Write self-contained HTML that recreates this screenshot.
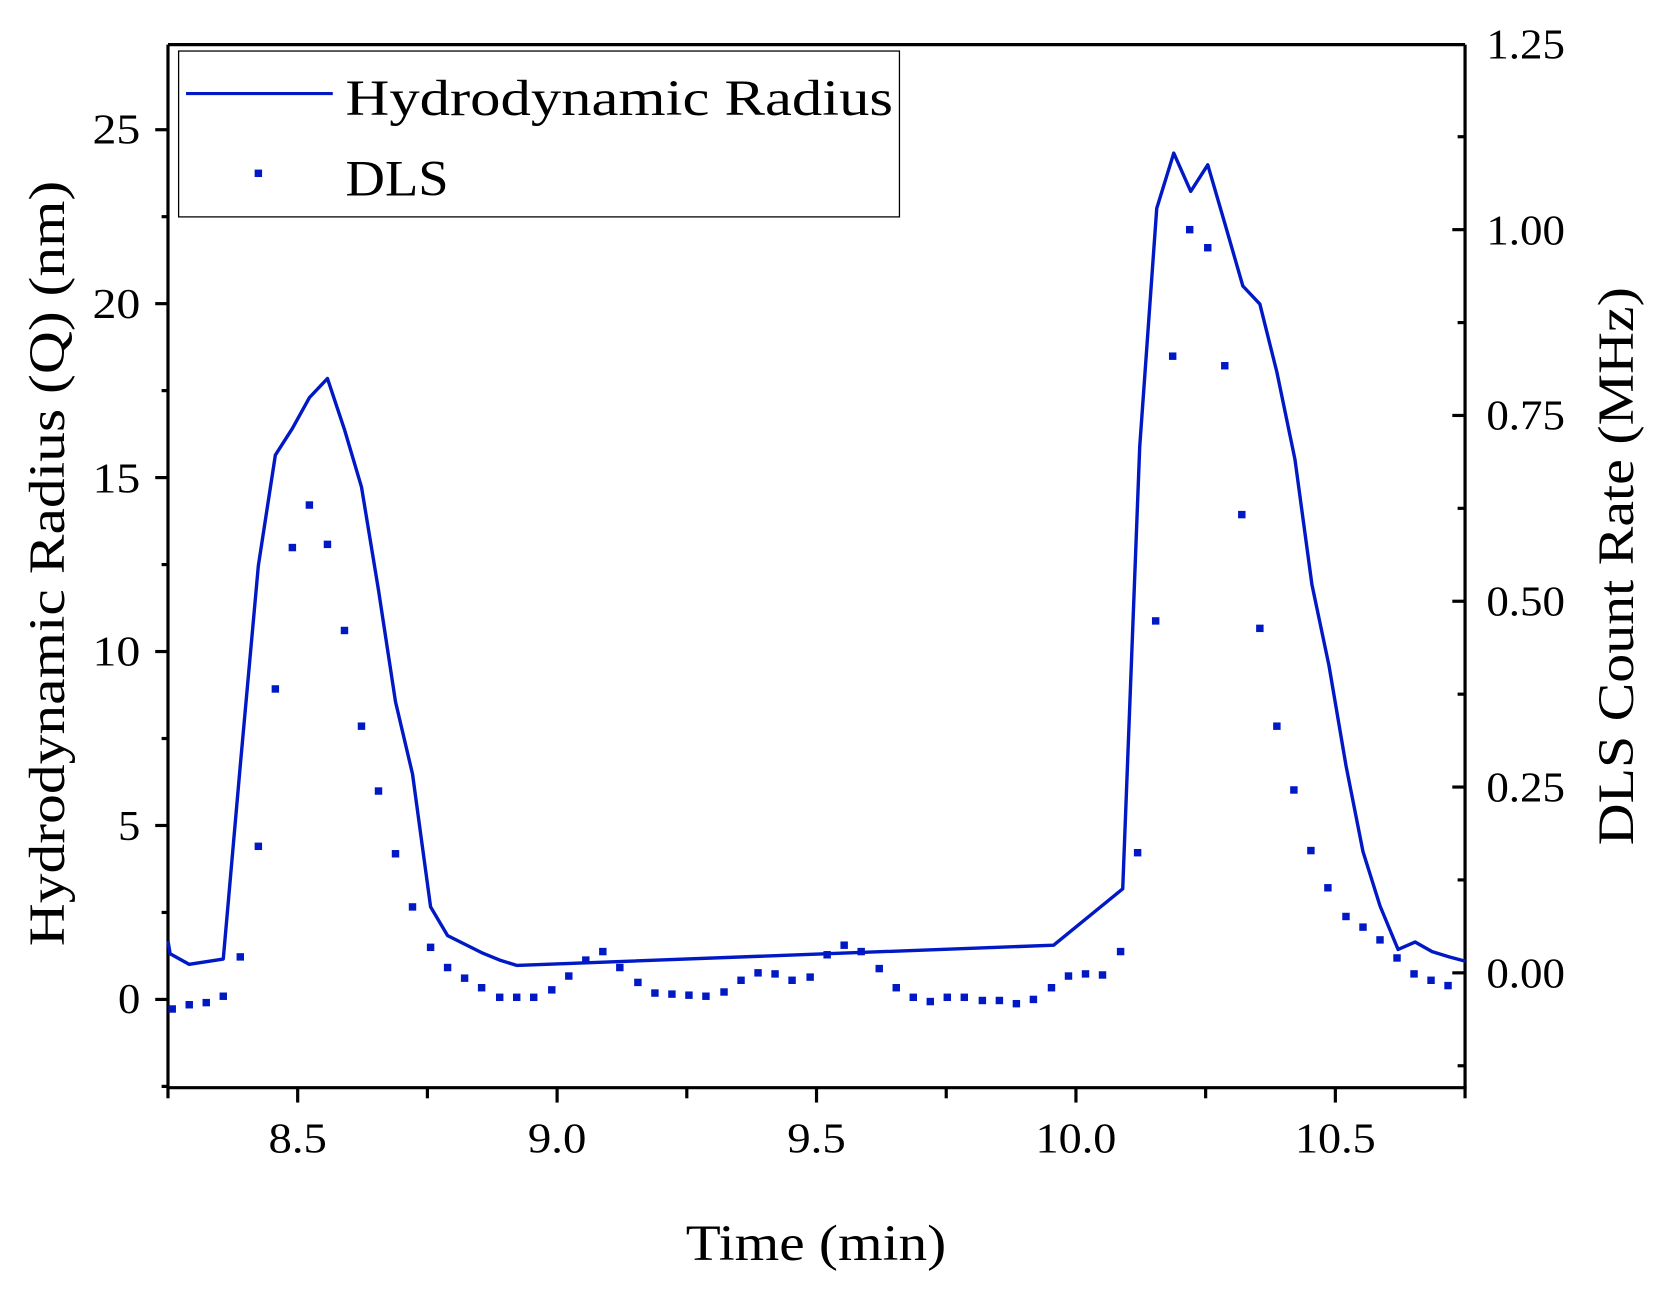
<!DOCTYPE html>
<html><head><meta charset="utf-8"><style>
html,body{margin:0;padding:0;background:#fff;}
svg{display:block;}
text{font-family:"Liberation Serif",serif;fill:#000;}
</style></head><body>
<svg width="1666" height="1295" viewBox="0 0 1567 1218" preserveAspectRatio="none" xmlns="http://www.w3.org/2000/svg">
<rect x="0" y="0" width="1567" height="1218" fill="#fff"/>
<g stroke="#000" stroke-width="3" fill="none">
<line x1="158" y1="42" x2="1378" y2="42"/>
<line x1="158" y1="42" x2="158" y2="1023"/>
<line x1="1378" y1="42" x2="1378" y2="1023"/>
<line x1="156.5" y1="1023" x2="1379.5" y2="1023"/>
<line x1="146" y1="940" x2="158" y2="940"/>
<line x1="146" y1="776.4" x2="158" y2="776.4"/>
<line x1="146" y1="612.8" x2="158" y2="612.8"/>
<line x1="146" y1="449.2" x2="158" y2="449.2"/>
<line x1="146" y1="285.6" x2="158" y2="285.6"/>
<line x1="146" y1="122" x2="158" y2="122"/>
<line x1="152" y1="1021.8" x2="158" y2="1021.8"/>
<line x1="152" y1="858.2" x2="158" y2="858.2"/>
<line x1="152" y1="694.6" x2="158" y2="694.6"/>
<line x1="152" y1="531" x2="158" y2="531"/>
<line x1="152" y1="367.4" x2="158" y2="367.4"/>
<line x1="152" y1="203.8" x2="158" y2="203.8"/>
<line x1="1366" y1="915" x2="1378" y2="915"/>
<line x1="1366" y1="740.25" x2="1378" y2="740.25"/>
<line x1="1366" y1="565.5" x2="1378" y2="565.5"/>
<line x1="1366" y1="390.75" x2="1378" y2="390.75"/>
<line x1="1366" y1="216" x2="1378" y2="216"/>
<line x1="1371" y1="1002.4" x2="1378" y2="1002.4"/>
<line x1="1371" y1="827.6" x2="1378" y2="827.6"/>
<line x1="1371" y1="652.9" x2="1378" y2="652.9"/>
<line x1="1371" y1="478.1" x2="1378" y2="478.1"/>
<line x1="1371" y1="303.4" x2="1378" y2="303.4"/>
<line x1="1371" y1="128.6" x2="1378" y2="128.6"/>
<line x1="158" y1="1023" x2="158" y2="1033"/>
<line x1="280" y1="1023" x2="280" y2="1037"/>
<line x1="402" y1="1023" x2="402" y2="1033"/>
<line x1="524" y1="1023" x2="524" y2="1037"/>
<line x1="646" y1="1023" x2="646" y2="1033"/>
<line x1="768" y1="1023" x2="768" y2="1037"/>
<line x1="890" y1="1023" x2="890" y2="1033"/>
<line x1="1012" y1="1023" x2="1012" y2="1037"/>
<line x1="1134" y1="1023" x2="1134" y2="1033"/>
<line x1="1256" y1="1023" x2="1256" y2="1037"/>
<line x1="1378" y1="1023" x2="1378" y2="1033"/>
</g>
<g font-size="40" text-anchor="end">
<text x="132" y="953" textLength="21" lengthAdjust="spacingAndGlyphs">0</text>
<text x="132" y="790" textLength="21" lengthAdjust="spacingAndGlyphs">5</text>
<text x="132" y="626" textLength="45" lengthAdjust="spacingAndGlyphs">10</text>
<text x="132" y="463" textLength="45" lengthAdjust="spacingAndGlyphs">15</text>
<text x="132" y="299" textLength="45" lengthAdjust="spacingAndGlyphs">20</text>
<text x="132" y="135" textLength="45" lengthAdjust="spacingAndGlyphs">25</text>
</g>
<g font-size="40" text-anchor="start">
<text x="1398" y="929" textLength="74" lengthAdjust="spacingAndGlyphs">0.00</text>
<text x="1398" y="754" textLength="74" lengthAdjust="spacingAndGlyphs">0.25</text>
<text x="1398" y="579" textLength="74" lengthAdjust="spacingAndGlyphs">0.50</text>
<text x="1398" y="404" textLength="74" lengthAdjust="spacingAndGlyphs">0.75</text>
<text x="1398" y="230" textLength="74" lengthAdjust="spacingAndGlyphs">1.00</text>
<text x="1398" y="55" textLength="74" lengthAdjust="spacingAndGlyphs">1.25</text>
</g>
<g font-size="40" text-anchor="middle">
<text x="280" y="1084" textLength="55" lengthAdjust="spacingAndGlyphs">8.5</text>
<text x="524" y="1084" textLength="55" lengthAdjust="spacingAndGlyphs">9.0</text>
<text x="768" y="1084" textLength="55" lengthAdjust="spacingAndGlyphs">9.5</text>
<text x="1012" y="1084" textLength="76" lengthAdjust="spacingAndGlyphs">10.0</text>
<text x="1256" y="1084" textLength="76" lengthAdjust="spacingAndGlyphs">10.5</text>
</g>
<text x="645" y="1185" font-size="48" textLength="245" lengthAdjust="spacingAndGlyphs">Time (min)</text>
<text transform="translate(60,890) rotate(-90)" font-size="48" textLength="720" lengthAdjust="spacingAndGlyphs">Hydrodynamic Radius (Q) (nm)</text>
<text transform="translate(1536,795) rotate(-90)" font-size="48" textLength="525" lengthAdjust="spacingAndGlyphs">DLS Count Rate (MHz)</text>
<polyline fill="none" stroke="#0019c4" stroke-width="3.2" stroke-linejoin="round" points="158,885 160,897 178,907 210,902 226,720 243,532 259,428 275,403 291,374 308,356 324,404 340,458 356,555 372,660 388,728 405,853 421,880 437,888 453,896 470,903 486,908 991,889 1056,836 1072,420 1088,196 1104,144 1120,180 1136,155 1152,210 1169,269 1185,286 1201,350 1218,432 1234,550 1250,626 1266,720 1282,801 1298,852 1315,893 1331,886 1347,895 1363,900 1378,904"/>
<rect x="168" y="48" width="678" height="156" fill="#fff" stroke="#000" stroke-width="1.2"/>
<line x1="175" y1="88" x2="313" y2="88" stroke="#0019c4" stroke-width="3"/>
<text x="325" y="108" font-size="48" textLength="515" lengthAdjust="spacingAndGlyphs">Hydrodynamic Radius</text>
<rect x="239.5" y="159.5" width="7" height="7" fill="#0019c4"/>
<text x="325" y="184" font-size="48" textLength="97" lengthAdjust="spacingAndGlyphs">DLS</text>
<g fill="#0019c4">
<rect x="158.5" y="945.5" width="7" height="7"/><rect x="174.5" y="941.5" width="7" height="7"/><rect x="190.5" y="939.5" width="7" height="7"/><rect x="206.5" y="933.5" width="7" height="7"/><rect x="222.5" y="896.5" width="7" height="7"/><rect x="239.5" y="792.5" width="7" height="7"/><rect x="255.5" y="644.5" width="7" height="7"/><rect x="271.5" y="511.5" width="7" height="7"/><rect x="287.5" y="471.5" width="7" height="7"/><rect x="304.5" y="508.5" width="7" height="7"/><rect x="320.5" y="589.5" width="7" height="7"/><rect x="336.5" y="679.5" width="7" height="7"/><rect x="352.5" y="740.5" width="7" height="7"/><rect x="368.5" y="799.5" width="7" height="7"/><rect x="384.5" y="849.5" width="7" height="7"/><rect x="401.5" y="887.5" width="7" height="7"/><rect x="417.5" y="906.5" width="7" height="7"/><rect x="433.5" y="916.5" width="7" height="7"/><rect x="449.5" y="925.5" width="7" height="7"/><rect x="466.5" y="934.5" width="7" height="7"/><rect x="482.5" y="934.5" width="7" height="7"/><rect x="498.5" y="934.5" width="7" height="7"/><rect x="515.5" y="927.5" width="7" height="7"/><rect x="531.5" y="914.5" width="7" height="7"/><rect x="547.5" y="899.5" width="7" height="7"/><rect x="563.5" y="891.5" width="7" height="7"/><rect x="579.5" y="906.5" width="7" height="7"/><rect x="596.5" y="920.5" width="7" height="7"/><rect x="612.5" y="930.5" width="7" height="7"/><rect x="628.5" y="931.5" width="7" height="7"/><rect x="644.5" y="932.5" width="7" height="7"/><rect x="660.5" y="933.5" width="7" height="7"/><rect x="677.5" y="929.5" width="7" height="7"/><rect x="693.5" y="918.5" width="7" height="7"/><rect x="709.5" y="911.5" width="7" height="7"/><rect x="725.5" y="912.5" width="7" height="7"/><rect x="741.5" y="918.5" width="7" height="7"/><rect x="758.5" y="915.5" width="7" height="7"/><rect x="774.5" y="894.5" width="7" height="7"/><rect x="790.5" y="885.5" width="7" height="7"/><rect x="806.5" y="891.5" width="7" height="7"/><rect x="823.5" y="907.5" width="7" height="7"/><rect x="839.5" y="925.5" width="7" height="7"/><rect x="855.5" y="934.5" width="7" height="7"/><rect x="871.5" y="938.5" width="7" height="7"/><rect x="887.5" y="934.5" width="7" height="7"/><rect x="903.5" y="934.5" width="7" height="7"/><rect x="920.5" y="937.5" width="7" height="7"/><rect x="936.5" y="937.5" width="7" height="7"/><rect x="952.5" y="940.5" width="7" height="7"/><rect x="968.5" y="936.5" width="7" height="7"/><rect x="985.5" y="925.5" width="7" height="7"/><rect x="1001.5" y="914.5" width="7" height="7"/><rect x="1017.5" y="912.5" width="7" height="7"/><rect x="1033.5" y="913.5" width="7" height="7"/><rect x="1050.5" y="891.5" width="7" height="7"/><rect x="1066.5" y="798.5" width="7" height="7"/><rect x="1083.5" y="580.5" width="7" height="7"/><rect x="1099.5" y="331.5" width="7" height="7"/><rect x="1115.5" y="212.5" width="7" height="7"/><rect x="1132.5" y="229.5" width="7" height="7"/><rect x="1148.5" y="340.5" width="7" height="7"/><rect x="1164.5" y="480.5" width="7" height="7"/><rect x="1181.5" y="587.5" width="7" height="7"/><rect x="1197.5" y="679.5" width="7" height="7"/><rect x="1213.5" y="739.5" width="7" height="7"/><rect x="1229.5" y="796.5" width="7" height="7"/><rect x="1245.5" y="831.5" width="7" height="7"/><rect x="1262.5" y="858.5" width="7" height="7"/><rect x="1278.5" y="868.5" width="7" height="7"/><rect x="1294.5" y="880.5" width="7" height="7"/><rect x="1310.5" y="897.5" width="7" height="7"/><rect x="1326.5" y="912.5" width="7" height="7"/><rect x="1342.5" y="918.5" width="7" height="7"/><rect x="1358.5" y="923.5" width="7" height="7"/>
</g>
</svg>
</body></html>
